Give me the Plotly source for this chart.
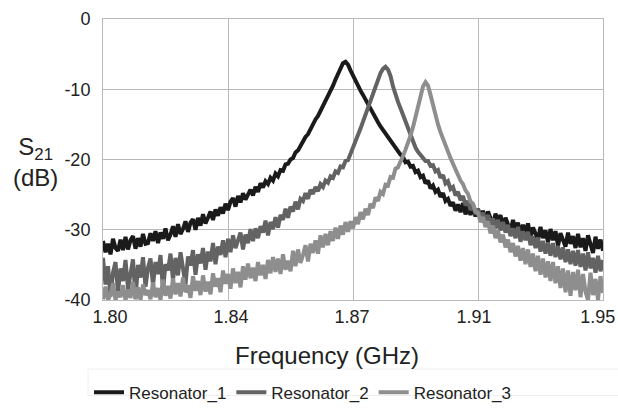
import plotly.graph_objects as go

# Frequency sweep (GHz): 201 points, 1.80 .. 1.95
freq = [round(1.80 + 0.00075 * i, 5) for i in range(201)]

resonator_1 = [
    -31.6, -33.2, -32.0, -33.5, -31.3, -32.6, -33.0, -31.4, -32.9, -31.0,
    -32.8, -31.5, -30.9, -32.7, -31.2, -32.4, -30.6, -32.0, -31.9, -30.5,
    -31.6, -30.2, -31.9, -30.4, -31.3, -29.8, -31.5, -30.7, -29.5, -31.0,
    -29.2, -30.6, -29.9, -28.8, -30.3, -29.0, -28.5, -30.0, -28.3, -29.4,
    -27.8, -29.1, -28.3, -27.4, -28.6, -27.1, -28.0, -26.8, -27.7, -26.3,
    -27.2, -26.0, -25.5, -26.7, -25.2, -26.1, -24.8, -25.7, -25.0, -24.3,
    -25.1, -23.9, -24.6, -23.4, -24.0, -23.1, -23.5, -22.6, -23.0, -22.0,
    -22.4, -21.5, -21.6, -20.7, -20.6, -20.0, -19.8, -19.0, -18.7, -18.0,
    -17.6, -16.8, -16.4, -15.6, -15.1, -14.3, -13.8, -13.1, -12.5, -11.8,
    -11.0, -10.2, -9.5, -8.6, -7.8, -6.9, -6.3, -6.1, -6.5, -7.3,
    -8.1, -8.8, -9.5, -10.2, -10.8, -11.5, -12.2, -12.8, -13.5, -14.1,
    -14.7, -15.3, -15.8, -16.4, -16.9, -17.4, -17.9, -18.3, -18.8, -19.3,
    -19.6, -20.4, -20.3, -21.0, -20.9, -21.8, -21.6, -22.5, -22.3, -23.4,
    -23.0, -24.1, -23.7, -24.6, -24.3, -25.3, -24.8, -25.9, -25.6, -26.6,
    -26.1, -27.3, -26.4, -27.5, -26.2, -27.8, -26.7, -27.9, -26.8, -28.1,
    -27.0, -28.4, -27.3, -28.8, -27.4, -28.2, -29.3, -27.7, -28.9, -27.9,
    -29.8, -28.3, -29.5, -30.2, -28.6, -30.0, -29.0, -30.7, -29.3, -30.4,
    -29.1, -31.0, -29.7, -30.5, -31.4, -29.6, -31.2, -30.1, -31.8, -29.9,
    -31.5, -30.2, -32.3, -30.5, -31.7, -32.4, -30.4, -32.0, -30.9, -32.6,
    -30.6, -32.5, -31.2, -33.0, -30.8, -32.2, -33.3, -31.0, -32.7, -31.4,
    -33.0,
]

resonator_2 = [
    -34.0, -37.8, -35.2, -39.5, -36.1, -34.6, -38.9, -35.5, -37.3, -34.3,
    -38.4, -35.9, -34.2, -39.8, -35.0, -36.8, -33.9, -38.1, -35.4, -34.1,
    -37.9, -34.6, -36.3, -33.6, -38.6, -34.9, -35.8, -33.4, -37.2, -34.0,
    -36.5, -33.2, -35.6, -37.8, -33.8, -35.1, -32.9, -36.4, -33.5, -34.8,
    -32.6, -35.7, -33.1, -34.5, -31.9, -34.9, -32.4, -33.6, -31.5, -33.9,
    -31.3, -33.2, -30.8, -32.6, -31.5, -30.4, -32.8, -30.7, -31.9, -29.9,
    -31.6, -29.8, -31.2, -29.5, -30.4, -28.7, -30.8, -28.9, -29.9, -28.2,
    -29.7, -27.9, -28.6, -27.0, -28.3, -26.7, -27.4, -26.0, -27.1, -25.6,
    -25.9, -24.8, -25.6, -24.3, -24.9, -23.9, -24.5, -23.5, -23.9, -23.0,
    -23.3, -22.4, -22.6, -21.7, -21.9, -21.0, -21.1, -20.2, -20.1, -19.2,
    -18.6, -17.6, -16.6, -15.6, -14.6, -13.6, -12.6, -11.6, -10.5, -9.5,
    -8.6, -7.7, -7.1, -6.8, -7.2, -8.1, -9.6, -10.9, -11.8, -12.7,
    -13.6, -14.6, -15.6, -16.6, -17.5, -18.3, -18.9, -19.4, -19.8, -20.2,
    -20.2, -20.9, -20.8, -21.7, -21.5, -22.6, -22.2, -23.4, -23.1, -24.2,
    -23.9, -25.1, -24.6, -25.8, -25.2, -26.5, -25.9, -27.2, -26.4, -27.8,
    -27.0, -28.3, -27.6, -28.9, -27.9, -29.3, -28.4, -29.8, -28.6, -30.1,
    -28.9, -30.4, -29.3, -30.9, -29.8, -31.2, -29.6, -31.7, -30.2, -31.5,
    -30.3, -32.2, -30.9, -32.6, -31.1, -33.1, -31.6, -33.4, -31.8, -33.7,
    -31.9, -33.9, -32.3, -34.2, -32.5, -34.6, -32.8, -34.9, -33.0, -35.1,
    -32.9, -35.3, -33.4, -35.8, -33.2, -35.5, -34.0, -36.1, -33.7, -35.9,
    -34.3,
]

resonator_3 = [
    -39.9, -38.1, -40.0, -39.2, -37.6, -40.0, -38.8, -39.6, -37.9, -40.0,
    -38.5, -39.7, -37.4, -39.9, -38.2, -40.0, -37.8, -39.3, -38.6, -39.9,
    -37.5, -39.6, -38.3, -40.0, -37.1, -39.4, -38.0, -39.8, -36.9, -39.2,
    -37.6, -39.5, -36.8, -38.9, -37.9, -39.7, -36.6, -38.7, -37.3, -39.3,
    -36.5, -38.8, -37.4, -39.2, -36.2, -38.1, -36.9, -38.9, -35.8, -37.7,
    -36.3, -38.4, -35.5, -37.6, -36.0, -38.2, -35.2, -37.1, -34.8, -36.9,
    -35.4, -37.3, -34.6, -36.5, -35.0, -37.0, -34.3, -36.2, -33.9, -36.0,
    -34.1, -36.3, -33.5, -35.7, -34.4, -35.9, -33.0, -35.2, -32.8, -34.7,
    -33.6, -32.2, -34.5, -32.0, -33.3, -31.5, -33.4, -30.8, -32.5, -30.6,
    -32.2, -30.2, -31.6, -29.7, -31.3, -29.4, -30.7, -28.9, -30.3, -28.8,
    -29.8, -28.2, -29.2, -27.5, -28.5, -27.0, -27.9, -26.3, -26.9, -25.4,
    -25.9, -24.6, -24.9, -23.6, -23.7, -22.5, -22.6, -21.3, -21.1, -20.1,
    -19.5, -18.6, -17.7, -16.6, -15.4, -13.9, -12.3, -10.7, -9.6, -9.0,
    -9.5, -10.8, -12.4, -13.8, -15.0, -16.1, -17.1, -18.0, -18.9, -19.8,
    -20.6, -21.5, -22.1, -23.0, -23.5, -24.4, -24.9, -26.0, -26.3, -27.4,
    -27.6, -28.9, -28.2, -29.6, -28.8, -30.5, -29.4, -31.2, -30.1, -31.8,
    -30.7, -32.5, -31.4, -33.2, -31.9, -33.8, -32.3, -34.4, -32.6, -34.9,
    -32.8, -35.3, -33.4, -35.9, -33.7, -36.4, -34.1, -36.8, -34.5, -37.3,
    -34.6, -37.6, -35.2, -38.3, -35.5, -38.9, -35.8, -39.4, -36.0, -38.6,
    -35.7, -39.6, -36.3, -38.8, -40.0, -36.1, -39.3, -37.0, -40.0, -36.6,
    -39.0,
]

series_names = ["Resonator_1", "Resonator_2", "Resonator_3"]
series_colors = ["#1a1a1a", "#636363", "#8e8e8e"]

# Grid positions (equally spaced) and label positions/texts
x_grid0, x_griddt = 1.80, 0.0375
x_labelvals = [1.8021, 1.8384, 1.8747, 1.9113, 1.9484]
x_labeltext = ["1.80", "1.84", "1.87", "1.91", "1.95"]
y_tickvals = [0, -10, -20, -30, -40]
y_ticktext = ["0", "-10", "-20", "-30", "-40"]

FONT = "Arial, Liberation Sans, sans-serif"
TXT = "#222222"

fig = go.Figure()
for name, ys, col in zip(series_names, [resonator_1, resonator_2, resonator_3], series_colors):
    fig.add_trace(go.Scatter(x=freq, y=ys, mode="lines", name=name,
                             line=dict(color=col, width=4)))

grid = "#b9b9b9"
fig.update_layout(
    width=618, height=408,
    margin=dict(l=103, r=15, t=19, b=108, autoexpand=False),
    paper_bgcolor="white", plot_bgcolor="white",
    font=dict(family=FONT, color=TXT),
    showlegend=True,
    legend=dict(orientation="h", x=0.40, xanchor="center", y=-0.33, yanchor="middle",
                font=dict(size=17, family=FONT, color=TXT),
                bgcolor="rgba(0,0,0,0)", itemwidth=30, tracegroupgap=0),
    xaxis=dict(range=[1.80, 1.95], tickmode="array", tickvals=x_labelvals, ticktext=x_labeltext,
               showgrid=False, automargin=False,
               minor=dict(tickmode="linear", tick0=x_grid0, dtick=x_griddt,
                          showgrid=True, gridcolor=grid, gridwidth=1, ticks=""),
               showline=True, linecolor=grid, linewidth=1, mirror=True,
               zeroline=False, ticks="", tickfont=dict(size=18, family=FONT, color=TXT)),
    yaxis=dict(range=[-40, 0], tickmode="array", tickvals=y_tickvals, ticktext=y_ticktext,
               showgrid=True, gridcolor=grid, gridwidth=1, automargin=False,
               showline=True, linecolor=grid, linewidth=1, mirror=True,
               zeroline=False, ticks="", ticklabelstandoff=8,
               tickfont=dict(size=18, family=FONT, color=TXT)),
    annotations=[
        dict(text="Frequency (GHz)", xref="paper", yref="paper", x=0.448, y=-0.196,
             xanchor="center", yanchor="middle", showarrow=False,
             font=dict(size=24, family=FONT, color=TXT)),
        dict(text="S<sub>21</sub><br>(dB)", xref="paper", yref="paper", x=-0.136, y=0.49,
             xanchor="center", yanchor="middle", showarrow=False, align="center",
             font=dict(size=24, family=FONT, color=TXT)),
    ],
    shapes=[
        dict(type="rect", xref="paper", yref="paper", x0=-0.03, x1=1.05, y0=-0.34, y1=-0.2456,
             line=dict(color="#eeeeee", width=1), fillcolor="rgba(0,0,0,0)", layer="below"),
    ],
)

fig.write_html("out.html")
